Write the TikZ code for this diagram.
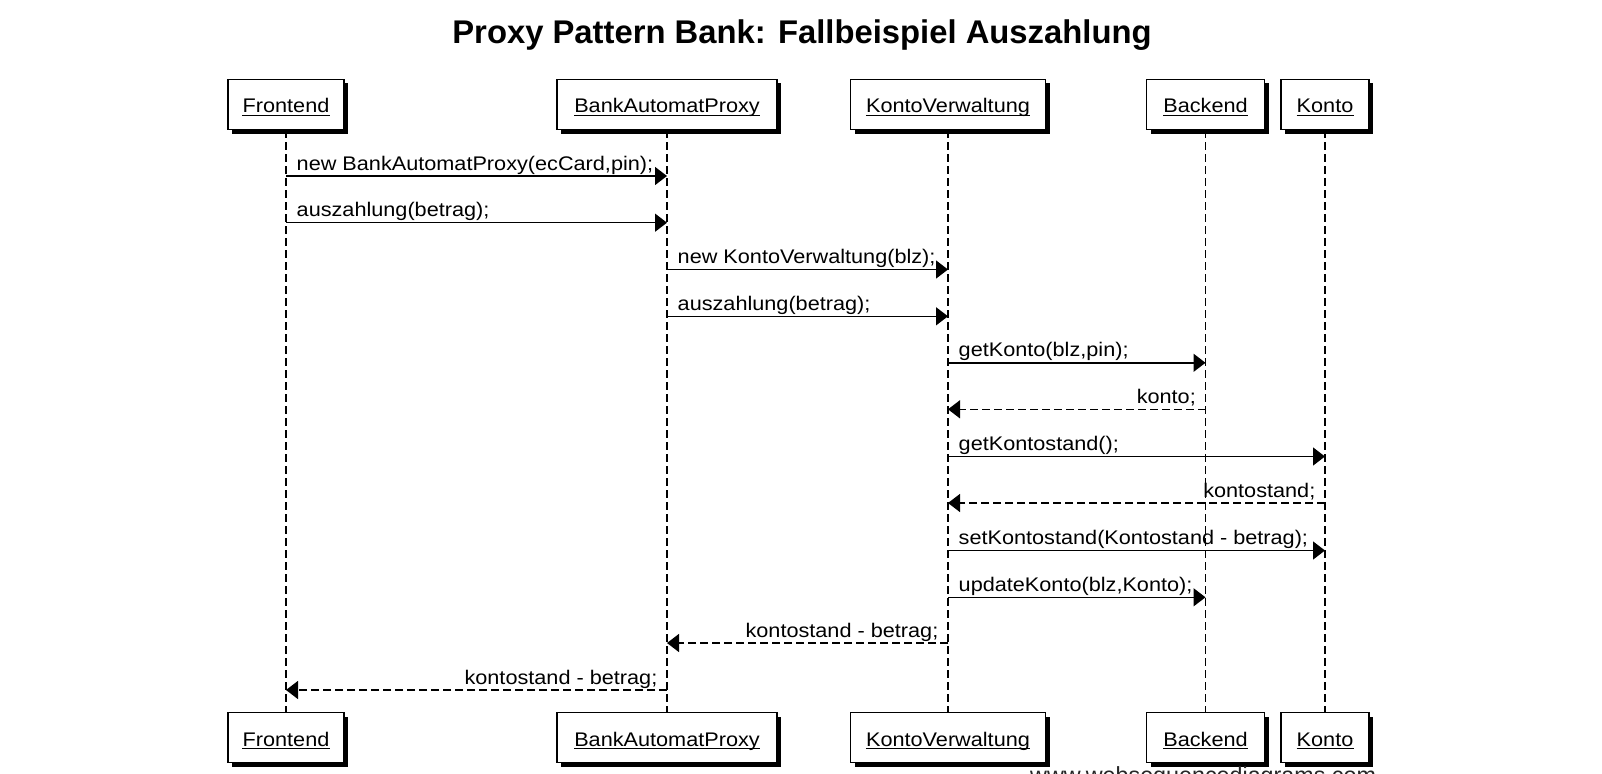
\documentclass[tikz,border=0pt]{standalone}
\usepackage{fontspec}
\setmainfont{Liberation Sans}
\newfontfamily\lblfont{Liberation Sans}[FakeStretch=1.1]
\usetikzlibrary{arrows.meta,shadows,calc}
\newcommand\fwdmsg[5]{%
  \coordinate (#1a) at (T#2.center |- 0,#4);
  \coordinate (#1b) at (T#3.center |- 0,#4);
  \draw[call] (#1a) -- (#1b);
  \node[lbl, anchor=base west] (#1) at ($(#1a)+(10.5,-6)$) {#5};
}
\newcommand\retmsg[5]{%
  \coordinate (#1a) at (T#2.center |- 0,#4);
  \coordinate (#1b) at (T#3.center |- 0,#4);
  \draw[ret] (#1a) -- (#1b);
  \node[lbl, anchor=base east] (#1) at ($(#1a)+(-9.5,-6)$) {#5};
}
\begin{document}
\begin{tikzpicture}[x=1pt,y=-1pt,
  headbox/.style={draw=black, line width=1.4pt, fill=white, minimum height=50pt, inner sep=0pt,
    drop shadow={shadow xshift=4pt, shadow yshift=-4pt, fill=black, opacity=1}},
  headtext/.style={inner sep=0pt, anchor=base, font=\lblfont\fontsize{19.7}{23}\selectfont},
  uline/.style={line width=1.1pt},
  lifeline/.style={line width=1.2pt, dash pattern=on 8pt off 4pt},
  call/.style={line width=1.4pt, -{Triangle[length=12pt,width=18pt]}},
  ret/.style={line width=1.4pt, dash pattern=on 8pt off 4pt, -{Triangle[length=12pt,width=18pt]}},
  lbl/.style={inner sep=0pt, font=\lblfont\fontsize{19.7}{23}\selectfont},
]
\useasboundingbox (0,0) rectangle (1602,773);
\fill[white] (0,0) rectangle (1602,773);

\node[font=\bfseries\fontsize{32.8}{38}\selectfont, anchor=base, inner sep=0pt] (title) at (802,44) {Proxy Pattern Bank: Fallbeispiel Auszahlung};

\foreach \n/\t/\x/\w in {fe/Frontend/286/116, bap/BankAutomatProxy/667/220, kv/KontoVerwaltung/948/195, be/Backend/1205.5/118, ko/Konto/1325/88} {
  \node[headbox, minimum width=\w pt] (T\n) at (\x,104.5) {};
  \node[headbox, minimum width=\w pt] (B\n) at (\x,737.7) {};
  \draw[lifeline] (T\n.south) -- (B\n.north);
  \node[headtext] (L\n) at (\x,113) {\t};
  \draw[uline] ($(L\n.base west)+(0,2.5)$) -- ($(L\n.base east)+(0,2.5)$);
  \node[headtext] (M\n) at (\x,746.2) {\t};
  \draw[uline] ($(M\n.base west)+(0,2.5)$) -- ($(M\n.base east)+(0,2.5)$);
}

\fwdmsg{m1}{fe}{bap}{176}{new BankAutomatProxy(ecCard,pin);}
\fwdmsg{m2}{fe}{bap}{222.7}{auszahlung(betrag);}
\fwdmsg{m3}{bap}{kv}{269.5}{new KontoVerwaltung(blz);}
\fwdmsg{m4}{bap}{kv}{316.3}{auszahlung(betrag);}
\fwdmsg{m5}{kv}{be}{362.8}{getKonto(blz,pin);}
\retmsg{m6}{be}{kv}{409.3}{konto;}
\fwdmsg{m7}{kv}{ko}{456.5}{getKontostand();}
\retmsg{m8}{ko}{kv}{503}{kontostand;}
\fwdmsg{m9}{kv}{ko}{550.5}{setKontostand(Kontostand - betrag);}
\fwdmsg{m10}{kv}{be}{597.3}{updateKonto(blz,Konto);}
\retmsg{m11}{kv}{bap}{643}{kontostand - betrag;}
\retmsg{m12}{bap}{fe}{690}{kontostand - betrag;}

\node[anchor=base west, inner sep=0pt, text=black!85, font=\fontsize{23.3}{28}\selectfont] (wm) at (1030,783) {www.websequencediagrams.com};
\end{tikzpicture}
\end{document}
